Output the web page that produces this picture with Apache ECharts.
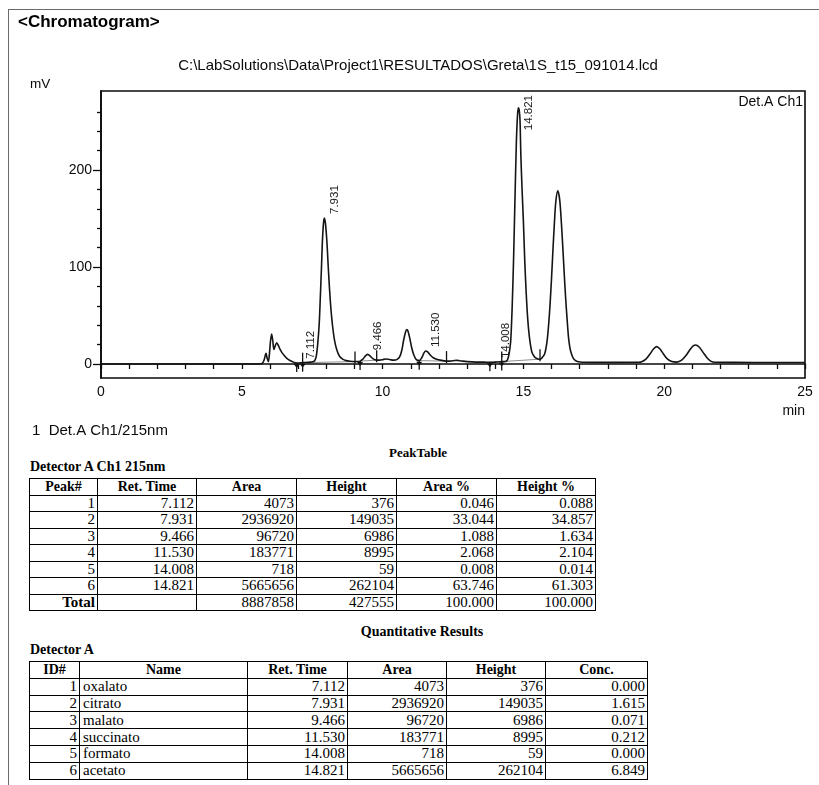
<!DOCTYPE html>
<html>
<head>
<meta charset="utf-8">
<title>Chromatogram</title>
<script src="https://cdn.jsdelivr.net/npm/echarts@6/dist/echarts.min.js"></script>
<style>
  body { margin: 0; background: #fff; }
  #page { position: relative; width: 819px; height: 785px; overflow: hidden; background: #fff; }
  #frame { position: absolute; left: 8px; top: 9px; width: 900px; height: 900px;
           border-left: 1px solid #6a6a6a; border-top: 1px solid #6a6a6a; }
  #chart { position: absolute; left: 0; top: 0; width: 819px; height: 445px; }
  .cap { position: absolute; font-family: "Liberation Serif", "Times New Roman", serif;
         font-weight: bold; font-size: 13px; color: #000; white-space: nowrap; line-height: 14px; }
  table.rep { position: absolute; border-collapse: collapse; table-layout: fixed;
              font-family: "Liberation Serif", "Times New Roman", serif; font-size: 15px; color: #000; }
  table.rep td, table.rep th { border: 1.8px solid #000; padding: 0 2px; line-height: 13px;
              text-align: right; white-space: nowrap; overflow: hidden; }
  table.rep th { font-weight: bold; text-align: center; font-size: 14px; }
  table.rep td.nm { text-align: left; padding-left: 3px; }
  table.rep td.tot { font-weight: bold; }
</style>
</head>
<body>
<div id="page">
  <div id="frame"></div>
  <div id="chart"></div>
  <div class="cap" id="capPeak"></div>
  <div class="cap" id="capDetA"></div>
  <table class="rep" id="peakTable"></table>
  <div class="cap" id="capQuant"></div>
  <div class="cap" id="capDetB"></div>
  <table class="rep" id="quantTable"></table>
</div>
<script>
// Detector trace: [retention time (min), signal (mV)]
const trace = [
  [0, 0], [3, 0], [5.6, 0.1], [5.72, 0.5], [5.79, 4], [5.86, 11], [5.90, 6], [5.94, 2.4],
  [5.98, 10], [6.02, 24], [6.06, 31], [6.10, 24], [6.14, 15], [6.19, 19], [6.24, 22],
  [6.30, 19], [6.36, 15], [6.42, 12], [6.50, 9], [6.59, 6], [6.68, 4.2], [6.77, 2.8],
  [6.86, 1.5], [6.95, 1.0], [7.03, 1.0], [7.112, 1.3], [7.16, 1.4], [7.25, 1.5], [7.35, 1.7],
  [7.45, 2.0], [7.55, 2.6], [7.60, 4], [7.65, 9], [7.70, 22], [7.75, 42], [7.79, 70],
  [7.83, 100], [7.86, 125], [7.90, 145], [7.931, 150.5], [7.97, 145], [8.02, 127],
  [8.07, 100], [8.12, 75], [8.17, 55], [8.22, 40], [8.29, 25], [8.37, 15], [8.47, 8],
  [8.58, 5], [8.70, 3.5], [8.85, 2.8], [9.02, 2.5], [9.10, 2.6], [9.20, 3], [9.30, 5],
  [9.38, 8], [9.466, 10], [9.55, 8.5], [9.65, 5.5], [9.79, 4], [9.90, 4], [10.00, 4.5],
  [10.10, 5.2], [10.20, 5], [10.30, 4.3], [10.40, 4], [10.50, 4.5], [10.60, 7], [10.68, 14],
  [10.75, 25], [10.82, 33.5], [10.86, 35.5], [10.90, 34], [10.97, 26], [11.04, 16],
  [11.12, 8.5], [11.20, 4.5], [11.30, 3.5], [11.40, 7], [11.47, 11.5], [11.53, 13.5],
  [11.60, 12.5], [11.70, 9], [11.80, 6.5], [11.92, 5], [12.05, 4], [12.27, 3], [12.40, 3],
  [12.55, 3.6], [12.65, 3.8], [12.80, 3.2], [13.00, 2.5], [13.30, 2], [13.60, 2],
  [13.81, 1.8], [13.95, 1.9], [14.008, 2], [14.10, 2.1], [14.23, 2.5], [14.35, 2.6],
  [14.40, 3], [14.45, 5.5], [14.50, 12], [14.55, 24], [14.60, 58], [14.65, 107],
  [14.70, 169], [14.75, 228], [14.79, 256], [14.821, 264], [14.85, 262], [14.88, 251],
  [14.91, 215], [14.95, 182], [15.00, 147], [15.05, 105], [15.10, 73], [15.15, 48],
  [15.20, 31], [15.25, 20], [15.30, 12.5], [15.38, 8], [15.45, 6], [15.52, 5.2], [15.59, 5],
  [15.65, 6], [15.70, 8], [15.75, 10], [15.80, 16], [15.85, 26], [15.90, 42], [15.95, 63],
  [16.00, 89], [16.05, 118], [16.10, 145], [16.15, 167], [16.22, 178.5], [16.29, 169],
  [16.35, 145], [16.40, 120], [16.45, 93], [16.50, 68], [16.55, 47], [16.60, 28], [16.65, 17],
  [16.70, 11], [16.77, 6], [16.85, 3.5], [16.95, 2.3], [17.10, 1.8], [17.50, 1.7],
  [18.50, 1.7], [19.10, 1.8], [19.20, 2.3], [19.35, 5], [19.50, 10.5], [19.62, 15.5],
  [19.73, 17.9], [19.85, 15.5], [19.98, 10], [20.12, 5], [20.27, 2.5], [20.45, 2],
  [20.62, 4], [20.78, 9], [20.92, 15], [21.02, 18.5], [21.12, 19.6], [21.24, 17.5],
  [21.38, 12], [21.52, 6.5], [21.65, 3], [21.80, 1.8], [22.50, 1.7], [23.90, 1.6], [25.00, 1.6]
];

// Integrated peaks
const peakNo     = [1, 2, 3, 4, 5, 6];
const retTimes   = ['7.112', '7.931', '9.466', '11.530', '14.008', '14.821'];
const peakAreas  = [4073, 2936920, 96720, 183771, 718, 5665656];
const peakHeights = [376, 149035, 6986, 8995, 59, 262104];
const areaPct    = ['0.046', '33.044', '1.088', '2.068', '0.008', '63.746'];
const heightPct  = ['0.088', '34.857', '1.634', '2.104', '0.014', '61.303'];
const totalArea  = 8887858;
const totalHeight = 427555;
const totalPct   = '100.000';

// Quantitative results
const compounds  = ['oxalato', 'citrato', 'malato', 'succinato', 'formato', 'acetato'];
const concValues = ['0.000', '1.615', '0.071', '0.212', '0.000', '6.849'];

// Integration marks: peak start (0), peak end (1), end + start (2)
const markTimes = [6.95, 7.16, 9.02, 9.20, 9.79, 11.30, 12.27, 13.81, 14.23, 15.59];
const markKinds = [0, 2, 1, 0, 1, 0, 1, 0, 2, 1];
const baseSegments = [[6.95, 7.16], [7.16, 9.02], [9.20, 9.79], [11.30, 12.27], [13.81, 14.23], [14.23, 15.59]];

// Axis ticks
const xLabelTicks = [0, 5, 10, 15, 20, 25];
const yMajorTicks = [0, 100, 200];
const yMinorTicks = [20, 40, 60, 80, 120, 140, 160, 180, 220, 240, 260];
const yRange = [-14.4, 281.4];

const filePath = 'C:\\LabSolutions\\Data\\Project1\\RESULTADOS\\Greta\\1S_t15_091014.lcd';

const SANS = '"Liberation Sans", Arial, sans-serif';
const INK = '#0a0a0a';

function signalAt(t) {
  const p = trace.find(d => Math.abs(d[0] - t) < 1e-6);
  return p ? p[1] : 0;
}

const measureCtx = document.createElement('canvas').getContext('2d');
const TAG_FONT = '11.5px ' + SANS;
function textWidth(s, font) { measureCtx.font = font; return measureCtx.measureText(s).width; }

const chart = echarts.init(document.getElementById('chart'), null, { renderer: 'canvas' });

const option = {
  animation: false,
  backgroundColor: 'transparent',
  grid: { left: 101, top: 91, width: 704, height: 287, show: true,
          borderColor: INK, borderWidth: 1.6, backgroundColor: 'transparent' },
  xAxis: {
    type: 'value', min: 0, max: 25, interval: 1,
    axisLine: { lineStyle: { color: INK, width: 1.6 } },
    axisTick: { length: 5, lineStyle: { color: INK, width: 1.3 } },
    axisLabel: { color: INK, fontSize: 14, fontFamily: SANS, margin: 7,
                 formatter: v => (xLabelTicks.indexOf(Math.round(v)) >= 0 && Math.abs(v - Math.round(v)) < 1e-6) ? String(Math.round(v)) : '' },
    splitLine: { show: false }
  },
  yAxis: [
    {
      type: 'value', min: yRange[0], max: yRange[1],
      axisLine: { show: true, lineStyle: { color: INK, width: 1.6 } },
      axisTick: { show: true, customValues: yMajorTicks, length: 8, lineStyle: { color: INK, width: 1.3 } },
      axisLabel: { customValues: yMajorTicks, color: INK, fontSize: 14, fontFamily: SANS, margin: 9 },
      splitLine: { show: false }
    },
    {
      type: 'value', min: yRange[0], max: yRange[1], position: 'left',
      axisLine: { show: false },
      axisTick: { show: true, customValues: yMinorTicks, length: 4, lineStyle: { color: INK, width: 1.3 } },
      axisLabel: { show: false, customValues: yMinorTicks },
      splitLine: { show: false }
    }
  ],
  graphic: [
    { type: 'text', x: 18, y: 22, style: { text: '<Chromatogram>', font: 'bold 17px ' + SANS, fill: '#000', verticalAlign: 'middle' } },
    { type: 'text', x: 418, y: 66, style: { text: filePath, font: '15px ' + SANS, fill: INK, align: 'center', verticalAlign: 'middle' } },
    { type: 'text', x: 30, y: 84, style: { text: 'mV', font: '13.5px ' + SANS, fill: INK, verticalAlign: 'middle' } },
    { type: 'text', x: 803, y: 102, style: { text: 'Det.A Ch1', font: '14px ' + SANS, fill: INK, align: 'right', verticalAlign: 'middle' } },
    { type: 'text', x: 805, y: 411, style: { text: 'min', font: '14px ' + SANS, fill: INK, align: 'right', verticalAlign: 'middle' } },
    { type: 'text', x: 32, y: 431, style: { text: '1  Det.A Ch1/215nm', font: '15px ' + SANS, fill: INK, verticalAlign: 'middle' } }
  ],
  series: [
    {
      name: 'baseline', type: 'custom', yAxisIndex: 0, silent: true,
      data: baseSegments.map(s => [s[0], signalAt(s[0]), s[1], signalAt(s[1])]),
      encode: { x: [0, 2], y: [1, 3] },
      renderItem: (params, api) => {
        const a = api.coord([api.value(0), api.value(1)]);
        const b = api.coord([api.value(2), api.value(3)]);
        return { type: 'line', shape: { x1: a[0], y1: a[1], x2: b[0], y2: b[1] },
                 style: { stroke: '#8e8e8e', lineWidth: 1 } };
      }
    },
    {
      name: 'Det.A Ch1', type: 'line', yAxisIndex: 0, data: trace,
      showSymbol: false, smooth: 0.3, silent: true,
      lineStyle: { color: '#141414', width: 1.6 }
    },
    {
      name: 'marks', type: 'custom', yAxisIndex: 0, silent: true,
      data: markTimes.map((t, i) => [t, signalAt(t), markKinds[i]]),
      encode: { x: 0, y: 1 },
      renderItem: (params, api) => {
        const p = api.coord([api.value(0), api.value(1)]);
        const kind = api.value(2);
        const x = p[0], y = p[1];
        const st = { stroke: '#111', lineWidth: 1.3 };
        const children = [];
        if (kind === 0 || kind === 2) {
          children.push({ type: 'line', shape: { x1: x, y1: y, x2: x, y2: y + 9 }, style: st });
          children.push({ type: 'polygon', shape: { points: [[x - 3, y + 1], [x + 3, y + 1], [x, y + 5]] },
                          style: { fill: '#111' } });
        }
        if (kind === 1 || kind === 2) {
          children.push({ type: 'line', shape: { x1: x, y1: y - 10, x2: x, y2: y + 2 }, style: st });
        }
        return { type: 'group', children };
      }
    },
    {
      name: 'tags', type: 'custom', yAxisIndex: 0, silent: true, clip: false,
      data: retTimes.map(s => [parseFloat(s), signalAt(parseFloat(s))]),
      encode: { x: 0, y: 1 },
      renderItem: (params, api) => {
        const p = api.coord([api.value(0), api.value(1)]);
        const txt = retTimes[params.dataIndex];
        const w = textWidth(txt, TAG_FONT);
        let y = p[1] - 4;
        const topLimit = params.coordSys.y + 4;
        if (y - w < topLimit) y = topLimit + w;
        return { type: 'text', x: p[0] + 10, y: y, rotation: Math.PI / 2,
                 style: { text: txt, font: TAG_FONT, fill: '#1a1a1a', align: 'left', verticalAlign: 'middle' } };
      }
    }
  ]
};
chart.setOption(option);

// Report tables
function buildTable(el, left, top, widths, rowH, header, rows) {
  el.style.left = left + 'px';
  el.style.top = top + 'px';
  el.style.width = widths.reduce((a, b) => a + b, 0) + 'px';
  let html = '<colgroup>' + widths.map(w => '<col style="width:' + w + 'px">').join('') + '</colgroup>';
  html += '<tr style="height:' + rowH + 'px">' + header.map(h => '<th>' + h + '</th>').join('') + '</tr>';
  rows.forEach(r => {
    html += '<tr style="height:' + rowH + 'px">' + r.map(c => {
      const cls = c.cls ? ' class="' + c.cls + '"' : '';
      return '<td' + cls + '>' + c.t + '</td>';
    }).join('') + '</tr>';
  });
  el.innerHTML = html;
}

function place(id, text, left, top, center, size) {
  const el = document.getElementById(id);
  el.textContent = text;
  el.style.top = top + 'px';
  el.style.left = left + 'px';
  if (size) el.style.fontSize = size + 'px';
  if (center) el.style.transform = 'translateX(-50%)';
}

place('capPeak', 'PeakTable', 418, 446, true, 13);
place('capDetA', 'Detector A Ch1 215nm', 30, 460, false, 14);

const peakRows = peakNo.map((n, i) => [
  { t: n }, { t: retTimes[i] }, { t: peakAreas[i] }, { t: peakHeights[i] },
  { t: areaPct[i] }, { t: heightPct[i] }
]);
peakRows.push([{ t: 'Total', cls: 'tot' }, { t: '' }, { t: totalArea }, { t: totalHeight },
               { t: totalPct }, { t: totalPct }]);
buildTable(document.getElementById('peakTable'), 29, 478, [68, 99, 100, 100, 100, 99], 16.5,
           ['Peak#', 'Ret. Time', 'Area', 'Height', 'Area %', 'Height %'], peakRows);

place('capQuant', 'Quantitative Results', 422, 625, true, 14);
place('capDetB', 'Detector A', 30, 643, false, 14);

const quantRows = compounds.map((nm, i) => [
  { t: peakNo[i] }, { t: nm, cls: 'nm' }, { t: retTimes[i] }, { t: peakAreas[i] },
  { t: peakHeights[i] }, { t: concValues[i] }
]);
buildTable(document.getElementById('quantTable'), 29, 661, [50, 168, 100, 99, 99, 102], 16.8,
           ['ID#', 'Name', 'Ret. Time', 'Area', 'Height', 'Conc.'], quantRows);
</script>
</body>
</html>
